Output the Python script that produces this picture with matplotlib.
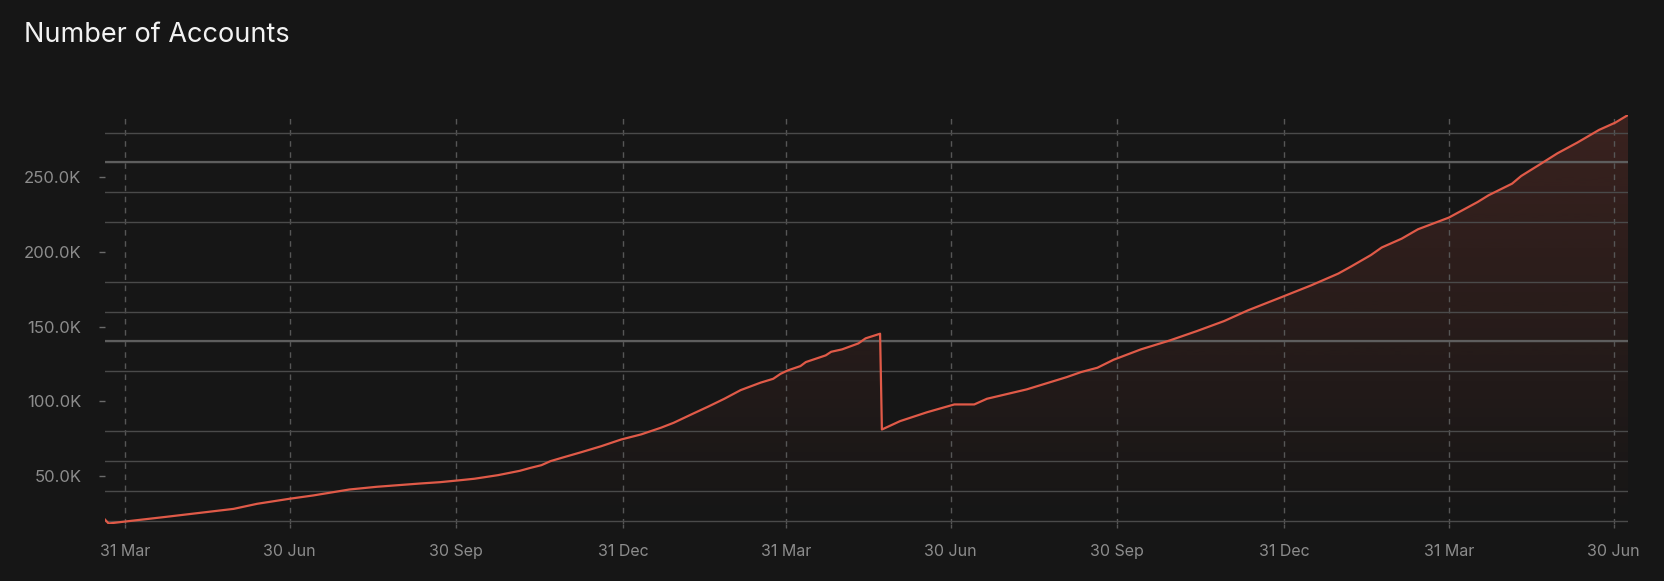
"""
plot.py
Number of Accounts over time, dark dashboard style: one red line with a
faded gradient fill underneath, dashed quarter-end verticals and light
20K horizontal grid.
"""
import numpy as np
import pandas as pd
import matplotlib
matplotlib.use("Agg")
import matplotlib.pyplot as plt
import matplotlib.dates as mdates
from matplotlib.colors import to_rgb
from matplotlib.ticker import MultipleLocator, FuncFormatter, FixedLocator

#data
dates = [
    "2022-03-20", "2022-03-22", "2022-03-31", "2022-04-23", "2022-05-30",
    "2022-06-12", "2022-06-30", "2022-07-13", "2022-08-02", "2022-08-17",
    "2022-09-10", "2022-09-21", "2022-10-02", "2022-10-10", "2022-10-23",
    "2022-11-04", "2022-11-10", "2022-11-16", "2022-11-21", "2022-11-28",
    "2022-12-08", "2022-12-19", "2022-12-30", "2023-01-10", "2023-01-21",
    "2023-01-28", "2023-02-08", "2023-02-16", "2023-02-25", "2023-03-06",
    "2023-03-17", "2023-03-24", "2023-03-28", "2023-04-01", "2023-04-08",
    "2023-04-11", "2023-04-22", "2023-04-25", "2023-05-01", "2023-05-10",
    "2023-05-14", "2023-05-22", "2023-05-23", "2023-06-02", "2023-06-17",
    "2023-07-02", "2023-07-13", "2023-07-20", "2023-08-11", "2023-09-02",
    "2023-09-10", "2023-09-19", "2023-09-28", "2023-10-13", "2023-10-29",
    "2023-11-13", "2023-11-28", "2023-12-11", "2023-12-29", "2024-01-15",
    "2024-01-30", "2024-02-06", "2024-02-17", "2024-02-23", "2024-03-05",
    "2024-03-14", "2024-03-31", "2024-04-16", "2024-04-22", "2024-05-05",
    "2024-05-10", "2024-05-21", "2024-05-30", "2024-06-10", "2024-06-22",
    "2024-07-01", "2024-07-08",
]
accounts = [
    20600, 18000, 19300, 22500, 27800,
    31200, 34600, 36800, 40800, 42600,
    44800, 45700, 47000, 48000, 50400,
    53300, 55300, 57100, 59800, 62300,
    65800, 69800, 74300, 77700, 82200,
    85500, 91800, 96300, 101600, 107400,
    112400, 115000, 118300, 120600, 123500,
    126200, 130700, 133100, 134700, 138700,
    142100, 145200, 81000, 86600, 92600,
    97800, 97800, 101600, 107900, 116100,
    119500, 122400, 127800, 134700, 140700,
    147000, 153700, 160800, 169400, 177600,
    185500, 190200, 197900, 203000, 208900,
    215200, 223000, 233500, 238000, 245800,
    250900, 259200, 266100, 273300, 281800,
    286700, 291800,
]
tick_dates = [
    "2022-03-31", "2022-06-30", "2022-09-30", "2022-12-31", "2023-03-31",
    "2023-06-30", "2023-09-30", "2023-12-31", "2024-03-31", "2024-06-30",
]
tick_labels = [
    "31 Mar", "30 Jun", "30 Sep", "31 Dec", "31 Mar",
    "30 Jun", "30 Sep", "31 Dec", "31 Mar", "30 Jun",
]

#style
BG = "#161616"
LINE = "#e05a48"
GRID = "#4a4a4a"
GRID_BRIGHT = "#5e5e5e"
VGRID = "#565656"
TEXT = "#8c8c8c"
FONT = ["Inter", "DejaVu Sans"]

W, H = 1665, 581
AX_L, AX_R, AX_T, AX_B = 105, 1628, 115, 523.5   #axes box in pixels


def main():
    plt.rcParams["font.family"] = FONT
    x = mdates.date2num(pd.to_datetime(dates))
    y = np.array(accounts, dtype=float)
    y_lo, y_hi = y.min(), y.max()

    fig = plt.figure(figsize=(W / 100, H / 100), dpi=100)
    fig.patch.set_facecolor(BG)
    ax = fig.add_axes([AX_L / W, 1 - AX_B / H, (AX_R - AX_L) / W, (AX_B - AX_T) / H])
    ax.set_facecolor(BG)

    #gradient fill under the line, clipped to the area polygon
    area = ax.fill_between(x, y, y_lo, color="none", linewidth=0)
    n = 256
    rgba = np.zeros((n, 1, 4))
    rgba[..., :3] = to_rgb(LINE)
    rgba[:, 0, 3] = np.linspace(0.0, 0.18, n)
    im = ax.imshow(rgba, extent=[x[0], x[-1], y_lo, y_hi], origin="lower",
                   aspect="auto", zorder=1, interpolation="bilinear")
    im.set_clip_path(area.get_paths()[0], transform=ax.transData)

    ax.plot(x, y, color=LINE, linewidth=1.6, zorder=3, solid_joinstyle="round")

    ax.set_xlim(x[0], x[-1])
    ax.set_ylim(y_lo, y_hi)

    #y axis: labelled ticks every 50K, grid every 20K
    ax.yaxis.set_major_locator(MultipleLocator(50000))
    ax.yaxis.set_minor_locator(MultipleLocator(20000))
    ax.yaxis.set_major_formatter(FuncFormatter(lambda v, _: f"{v / 1000:.1f}K"))
    ax.grid(True, axis="y", which="minor", color=GRID, linewidth=1.0)
    for level in (140000, 260000):
        ax.axhline(level, color=GRID_BRIGHT, linewidth=1.6, zorder=1.6)
    ax.tick_params(axis="y", which="major", length=4.5, width=1, color="#6a6a6a",
                   pad=12.5, labelsize=12, labelcolor=TEXT)
    ax.tick_params(axis="y", which="minor", length=0)

    #x axis: quarter ends with dashed verticals
    tx = mdates.date2num(pd.to_datetime(tick_dates))
    ax.xaxis.set_major_locator(FixedLocator(tx))
    ax.set_xticklabels(tick_labels)
    ax.grid(True, axis="x", which="major", color=VGRID, linewidth=1.0,
            linestyle=(0, (4, 4)))
    ax.tick_params(axis="x", which="major", length=3, width=1, color=VGRID,
                   pad=12, labelsize=11.5, labelcolor=TEXT)

    for s in ax.spines.values():
        s.set_visible(False)

    fig.text(24 / W, 1 - 41.5 / H, "Number of Accounts", fontsize=19.5,
             color="#f2f2f2", va="baseline", ha="left")

    fig.savefig("out.png", dpi=100, facecolor=BG)
    plt.close(fig)


if __name__ == "__main__":
    main()
